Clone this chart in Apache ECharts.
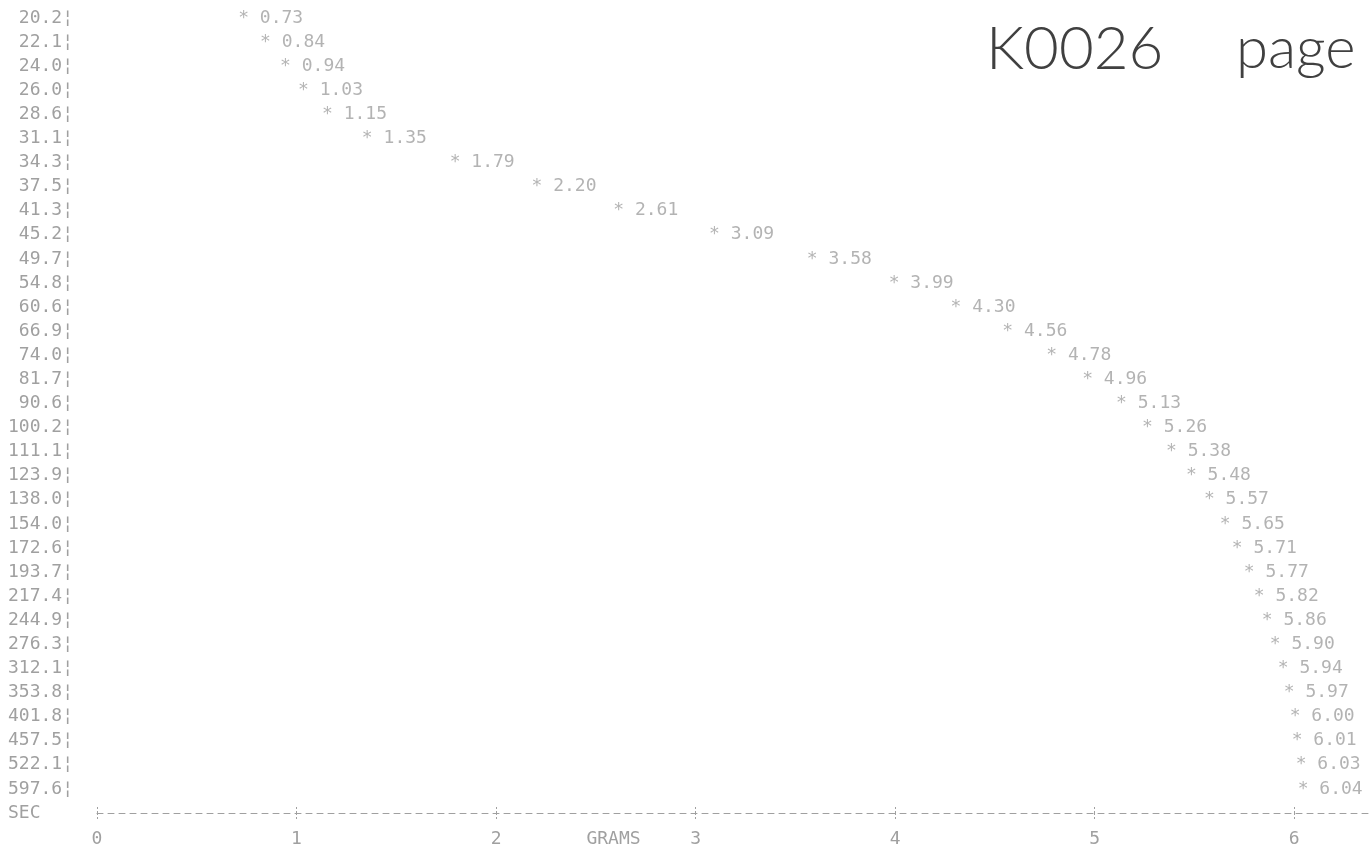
<!DOCTYPE html>
<html>
<head>
<meta charset="utf-8">
<script src="https://cdn.jsdelivr.net/npm/echarts@6/dist/echarts.min.js"></script>
<style>
html,body{margin:0;padding:0;background:#fff;}
#chart{width:1372px;height:855px;}
</style>
</head>
<body>
<div id="chart"></div>
<script>
// Time (SEC) rows, top to bottom
const timeLabels = ['20.2','22.1','24.0','26.0','28.6','31.1','34.3','37.5','41.3','45.2','49.7','54.8','60.6','66.9','74.0','81.7','90.6','100.2','111.1','123.9','138.0','154.0','172.6','193.7','217.4','244.9','276.3','312.1','353.8','401.8','457.5','522.1','597.6'];
// Force values (GRAMS) for each row
const gramValues = [0.73,0.84,0.94,1.03,1.15,1.35,1.79,2.20,2.61,3.09,3.58,3.99,4.30,4.56,4.78,4.96,5.13,5.26,5.38,5.48,5.57,5.65,5.71,5.77,5.82,5.86,5.90,5.94,5.97,6.00,6.01,6.03,6.04];
// X tick labels
const gramTicks = [0,1,2,3,4,5,6];
const axisRowLabel = 'SEC';
const xName = 'GRAMS';
const noteWords = ['K0026', 'page'];

const INK = '#a0a0a0';
const FONT = 'DejaVu Sans Mono';
const FS = 18;

const chart = echarts.init(document.getElementById('chart'), null, {renderer: 'canvas'});
const yCats = timeLabels.concat([axisRowLabel]);

chart.setOption({
  animation: false,
  backgroundColor: '#ffffff',
  grid: {left: 97, top: 18, width: 1277, bottom: 42, containLabel: false, outerBoundsMode: 'none'},
  xAxis: [{
    type: 'value', min: 0, max: 6.4, interval: 1, position: 'bottom',
    axisLine: {show: true, lineStyle: {color: INK, width: 1, type: [6, 5]}},
    axisTick: {show: true, inside: true, length: 8, lineStyle: {color: INK, width: 1, type: [2, 2]}},
    splitLine: {show: false},
    axisLabel: {
      margin: 17, color: INK, fontFamily: FONT, fontSize: FS,
      formatter: v => gramTicks.indexOf(v) >= 0 ? String(v) : ''
    },
    name: xName, nameLocation: 'middle', nameGap: 17, nameMoveOverlap: false,
    nameTextStyle: {color: INK, fontFamily: FONT, fontSize: FS, verticalAlign: 'top', padding: [0, 244, 0, 0]}
  }, {
    type: 'value', min: 0, max: 6.4, interval: 1, position: 'bottom',
    axisLine: {show: false},
    axisTick: {show: true, inside: false, length: 8, lineStyle: {color: INK, width: 1, type: [2, 2]}},
    splitLine: {show: false},
    axisLabel: {show: false}
  }],
  yAxis: {
    type: 'category', data: yCats, inverse: true, boundaryGap: false,
    axisLine: {show: false}, axisTick: {show: false}, splitLine: {show: false},
    axisLabel: {
      margin: 24, color: INK, fontFamily: FONT, fontSize: FS, interval: 0,
      formatter: v => v === axisRowLabel ? v + '   ' : v + '\u00a6'
    }
  },
  series: [{
    type: 'scatter',
    xAxisIndex: 0,
    symbolSize: 1,
    itemStyle: {color: 'rgba(0,0,0,0)'},
    data: gramValues.map((g, i) => [g, timeLabels[i]]),
    label: {
      show: true, position: 'right', distance: 0, offset: [-5, 0],
      color: INK, fontFamily: FONT, fontSize: FS,
      formatter: p => '* ' + p.value[0].toFixed(2)
    }
  }],
  graphic: [{
    type: 'text', left: 986, top: 20,
    style: {text: noteWords[0], fontFamily: 'Lato', fontWeight: 300, fontSize: 60, fill: '#404040'}
  }, {
    type: 'text', left: 1236, top: 20,
    style: {text: noteWords[1], fontFamily: 'Lato', fontWeight: 300, fontSize: 58, fill: '#404040'}
  }]
});
</script>
</body>
</html>
